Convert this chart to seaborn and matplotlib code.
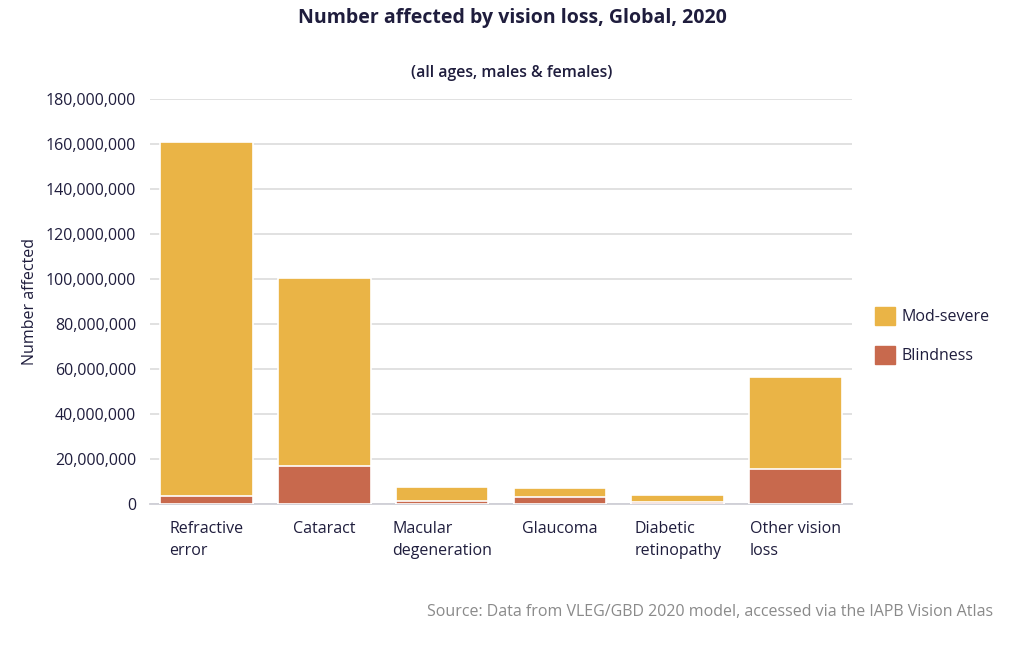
import pandas as pd
import matplotlib.pyplot as plt
import seaborn as sns
from matplotlib.patches import Patch
from matplotlib.ticker import FuncFormatter

# values (millions of people)
causes = ['Refractive\nerror', 'Cataract', 'Macular\ndegeneration', 'Glaucoma',
          'Diabetic\nretinopathy', 'Other vision\nloss']
blindness = [3.4, 16.7, 1.5, 3.1, 0.9, 15.7]
mod_severe = [157.5, 83.7, 6.2, 4.1, 3.1, 40.7]

yellow = '#EAB446'
red = '#C8694D'
ink = '#1f1d3d'

df = pd.DataFrame({'cause': causes,
                   'blindness': [b * 1e6 for b in blindness],
                   'mod_severe': [m * 1e6 for m in mod_severe]})
df['total'] = df['blindness'] + df['mod_severe']

sns.set_style('white')
plt.rcParams['font.family'] = ['Open Sans', 'DejaVu Sans']

fig = plt.figure(figsize=(10.24, 6.52), dpi=100)
ax = fig.add_axes([0.1465, 0.227, 0.6855, 0.621])

# stacked: total in yellow, blindness in red drawn over it
sns.barplot(data=df, x='cause', y='total', color=yellow, saturation=1,
            width=0.785, edgecolor='white', linewidth=1.2, ax=ax, zorder=3)
sns.barplot(data=df, x='cause', y='blindness', color=red, saturation=1,
            width=0.785, edgecolor='white', linewidth=1.2, ax=ax, zorder=4)

ax.set_xlim(-0.48, 5.48)
ax.set_ylim(0, 180e6)
ax.set_yticks(range(0, 180000001, 20000000))
ax.yaxis.set_major_formatter(FuncFormatter(lambda v, p: f'{int(v):,}'))
ax.grid(axis='y', color='#dedede', linewidth=1.3, zorder=0)
ax.set_axisbelow(True)
for s in ['top', 'right', 'left']:
    ax.spines[s].set_visible(False)
ax.spines['bottom'].set_color('#cfcfd6')
ax.spines['bottom'].set_linewidth(1.3)
ax.tick_params(axis='both', length=0, labelsize=11.5, colors=ink, pad=10)
ax.tick_params(axis='x', pad=12)
for lbl in ax.get_xticklabels():
    lbl.set_multialignment('left')
    lbl.set_verticalalignment('top')
    lbl.set_linespacing(1.5)

ax.set_xlabel('')
ax.set_ylabel('Number affected', fontsize=11.5, color=ink)
ax.yaxis.set_label_coords(-0.16, 0.5)

fig.text(0.5, 0.988, 'Number affected by vision loss, Global, 2020', ha='center',
         va='top', fontsize=14, fontweight='bold', color=ink)
fig.text(0.5, 0.888, '(all ages, males & females)', ha='center', va='center',
         fontsize=11.4, fontweight='semibold', color=ink)
fig.text(0.970, 0.062, 'Source: Data from VLEG/GBD 2020 model, accessed via the IAPB Vision Atlas',
         ha='right', va='center', fontsize=11.5, color='#8a8a8a')

handles = [Patch(facecolor=yellow, edgecolor=yellow, label='Mod-severe'),
           Patch(facecolor=red, edgecolor=red, label='Blindness')]
fig.legend(handles=handles, loc='center left', bbox_to_anchor=(0.84, 0.485),
           frameon=False, fontsize=11.5, labelcolor=ink, handlelength=1.3,
           handleheight=1.3, labelspacing=1.3, handletextpad=0.4)

fig.savefig('out.png', dpi=100)
